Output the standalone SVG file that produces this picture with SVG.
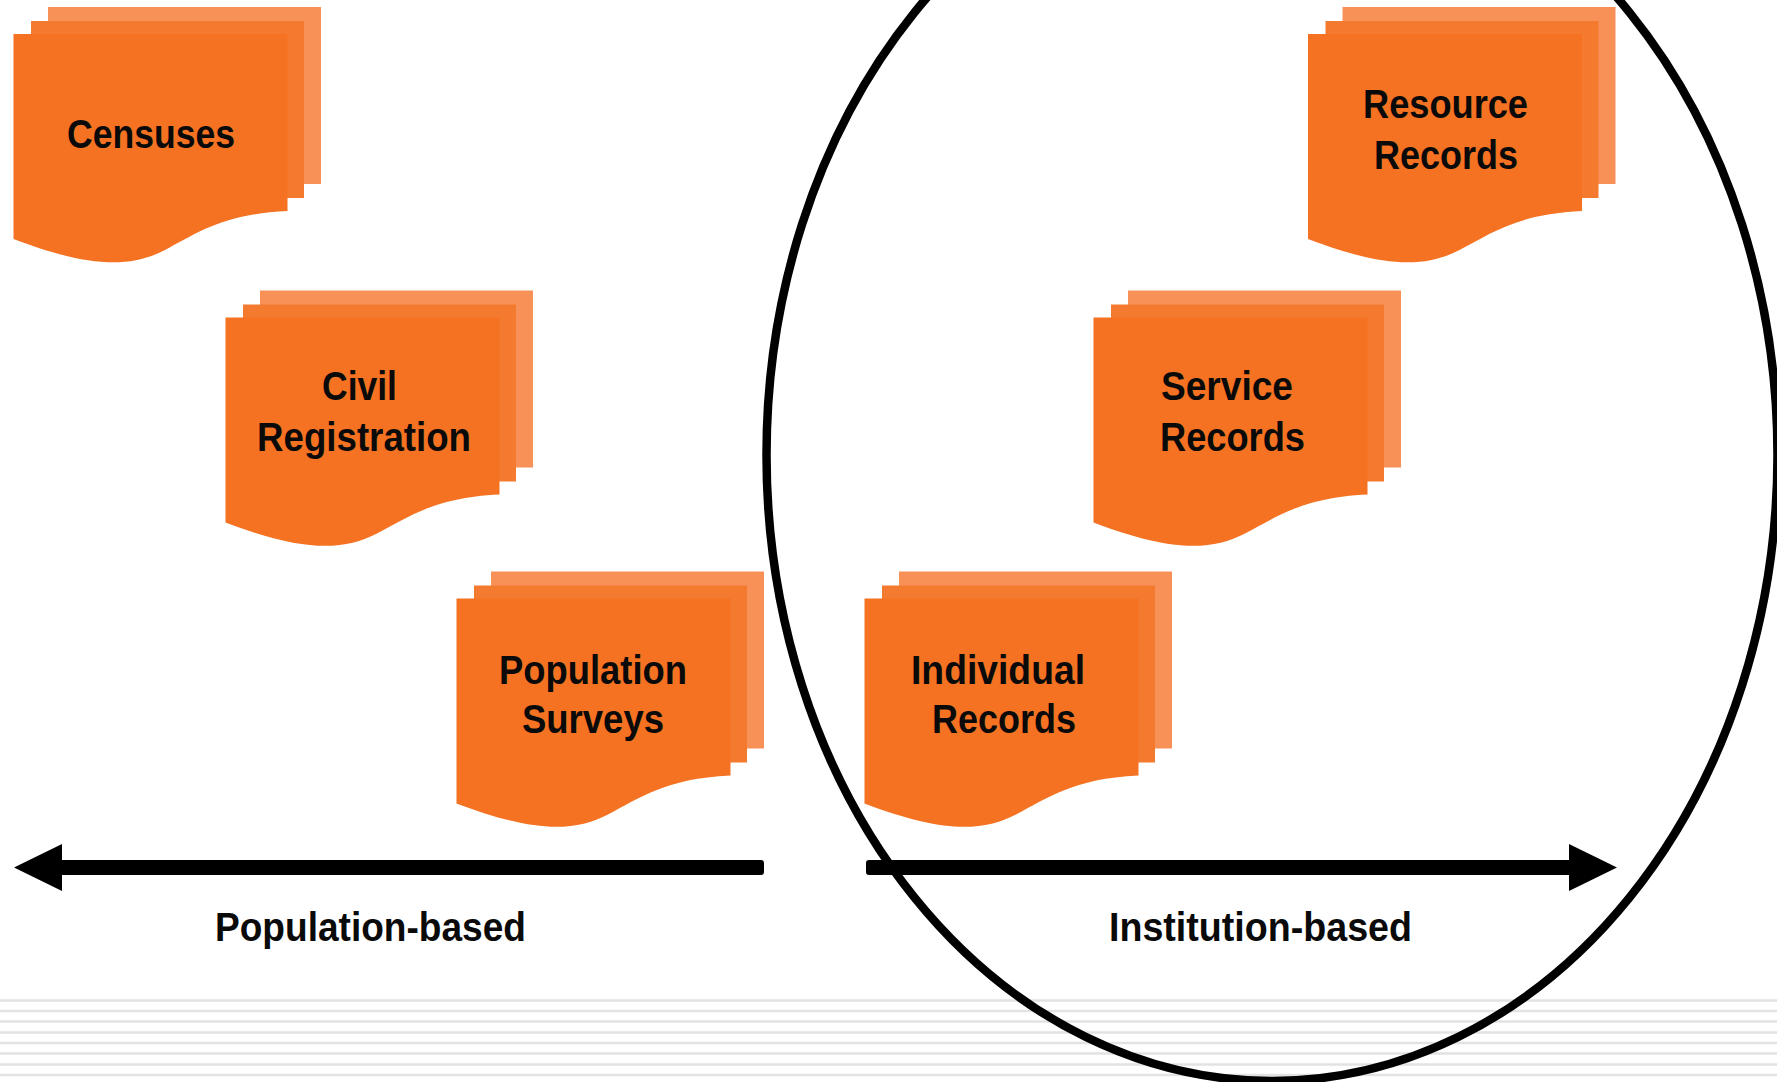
<svg xmlns="http://www.w3.org/2000/svg" width="1777" height="1082" viewBox="0 0 1777 1082">
<style>
.t{font-family:"Liberation Sans Narrow","Liberation Sans",Arial,sans-serif;font-weight:700;font-size:40px;fill:#0a0a0a}
.a{fill:#f89158}.b{fill:#f47a30}.c{fill:#f47221}
.g{stroke:#e2e2e2;stroke-width:2.5}
</style>
<defs>
<g id="doc">
<rect class="a" x="48" y="7" width="273" height="177"/>
<rect class="b" x="31" y="21" width="273" height="177"/>
<path class="c" d="M13.5 34H287.5V211C222 214 196 234 165 250C130 268 90 268 13.5 239Z"/>
</g>
</defs>
<rect width="1777" height="1082" fill="#fff"/>
<g id="stripes">
<path class="g" d="M0 1000.5H1777M0 1011H1777M0 1021.5H1777M0 1032.5H1777M0 1043H1777M0 1053.5H1777M0 1064.5H1777M0 1075H1777"/>
</g>
<g id="censuses"><use href="#doc"/><text class="t" x="67" y="148" textLength="168" lengthAdjust="spacingAndGlyphs">Censuses</text></g>
<g id="civil-registration"><use href="#doc" x="212" y="283.5"/><text class="t" x="322" y="400" textLength="75" lengthAdjust="spacingAndGlyphs">Civil</text><text class="t" x="257" y="451" textLength="214" lengthAdjust="spacingAndGlyphs">Registration</text></g>
<g id="population-surveys"><use href="#doc" x="443" y="564.5"/><text class="t" x="499" y="684" textLength="188" lengthAdjust="spacingAndGlyphs">Population</text><text class="t" x="522" y="733" textLength="142" lengthAdjust="spacingAndGlyphs">Surveys</text></g>
<g id="resource-records"><use href="#doc" x="1294.5"/><text class="t" x="1363" y="118" textLength="165" lengthAdjust="spacingAndGlyphs">Resource</text><text class="t" x="1374" y="169" textLength="144" lengthAdjust="spacingAndGlyphs">Records</text></g>
<g id="service-records"><use href="#doc" x="1080" y="283.5"/><text class="t" x="1161" y="400" textLength="132" lengthAdjust="spacingAndGlyphs">Service</text><text class="t" x="1160" y="451" textLength="145" lengthAdjust="spacingAndGlyphs">Records</text></g>
<g id="individual-records"><use href="#doc" x="851" y="564.5"/><text class="t" x="911" y="684" textLength="174" lengthAdjust="spacingAndGlyphs">Individual</text><text class="t" x="932" y="733" textLength="144" lengthAdjust="spacingAndGlyphs">Records</text></g>
<g id="connectors">
<path d="M761 860a3 3 0 0 1 3 3v9a3 3 0 0 1 -3 3H62V891L14 867.5L62 844V860Z" fill="#000"/>
<path d="M869 860a3 3 0 0 0 -3 3v9a3 3 0 0 0 3 3H1569V891L1617 867.5L1569 844V860Z" fill="#000"/>
<ellipse cx="1272" cy="455" rx="505.5" ry="626" fill="none" stroke="#000" stroke-width="8.5"/>
</g>
<text class="t" x="215" y="941" textLength="311" lengthAdjust="spacingAndGlyphs">Population-based</text>
<text class="t" x="1109" y="941" textLength="303" lengthAdjust="spacingAndGlyphs">Institution-based</text>
</svg>
